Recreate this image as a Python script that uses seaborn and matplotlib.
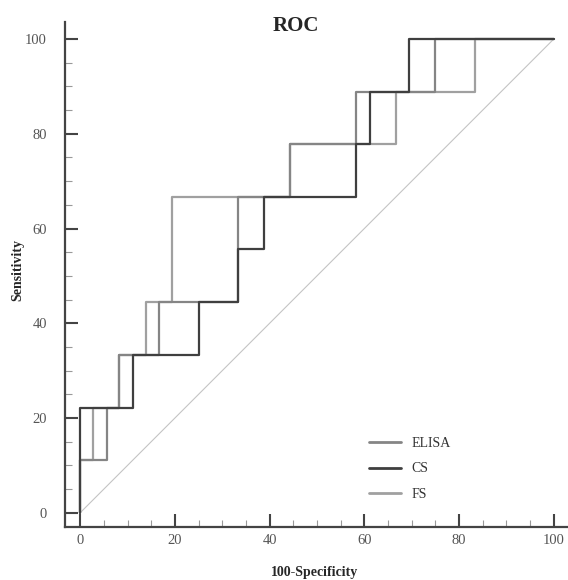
import numpy as np
import pandas as pd
import matplotlib
matplotlib.use("Agg")
import matplotlib.pyplot as plt
from matplotlib.ticker import MultipleLocator
from matplotlib.lines import Line2D
import seaborn as sns

# ROC curve vertices (100-Specificity, Sensitivity) for each test
elisa_x = [0, 0, 5.6, 5.6, 8.3, 8.3, 16.7, 16.7, 33.3, 33.3, 44.4, 44.4, 58.3, 58.3, 75.0, 75.0, 100]
elisa_y = [0, 11.1, 11.1, 22.2, 22.2, 33.3, 33.3, 44.4, 44.4, 66.7, 66.7, 77.8, 77.8, 88.9, 88.9, 100, 100]

cs_x = [0, 0, 11.1, 11.1, 25.0, 25.0, 33.3, 33.3, 38.9, 38.9, 58.3, 58.3, 61.1, 61.1, 69.4, 69.4, 100]
cs_y = [0, 22.2, 22.2, 33.3, 33.3, 44.4, 44.4, 55.6, 55.6, 66.7, 66.7, 77.8, 77.8, 88.9, 88.9, 100, 100]

fs_x = [0, 0, 2.8, 2.8, 8.3, 8.3, 13.9, 13.9, 19.4, 19.4, 44.4, 44.4, 66.7, 66.7, 83.3, 83.3, 100]
fs_y = [0, 11.1, 11.1, 22.2, 22.2, 33.3, 33.3, 44.4, 44.4, 66.7, 66.7, 77.8, 77.8, 88.9, 88.9, 100, 100]

tests = ["ELISA", "CS", "FS"]
colors = {"ELISA": "#858585", "CS": "#3f3f3f", "FS": "#a0a0a0"}
ref_x = [0, 100]
ref_y = [0, 100]

frames = []
for name, xs, ys in [("FS", fs_x, fs_y), ("ELISA", elisa_x, elisa_y), ("CS", cs_x, cs_y)]:
    frames.append(pd.DataFrame({"fpr": xs, "tpr": ys, "test": name}))
df = pd.concat(frames, ignore_index=True)

sns.set_style("white")
plt.rcParams["font.family"] = ["Liberation Serif", "DejaVu Serif"]

fig = plt.figure(figsize=(5.68, 5.80), dpi=100)
ax = fig.add_axes([65 / 568, 53 / 580, 502 / 568, 505 / 580])

# chance line
sns.lineplot(x=ref_x, y=ref_y, ax=ax, color="#c4c4c4", linewidth=0.8)

for name in ["FS", "ELISA", "CS"]:
    sub = df[df["test"] == name]
    sns.lineplot(data=sub, x="fpr", y="tpr", sort=False, estimator=None,
                 ax=ax, color=colors[name], linewidth=1.6)

ax.set_xlim(-3.2, 102.8)
ax.set_ylim(-3.0, 103.6)

for side in ["top", "right"]:
    ax.spines[side].set_visible(False)
for side in ["left", "bottom"]:
    ax.spines[side].set_color("#444444")
    ax.spines[side].set_linewidth(1.6)

ax.xaxis.set_major_locator(MultipleLocator(20))
ax.yaxis.set_major_locator(MultipleLocator(20))
ax.xaxis.set_minor_locator(MultipleLocator(5))
ax.yaxis.set_minor_locator(MultipleLocator(5))
ax.tick_params(which="both", bottom=True, left=True, top=False, right=False)
ax.tick_params(which="major", direction="in", length=9.5, width=1.5, color="#444444",
               labelsize=10.5, labelcolor="#555555")
ax.tick_params(which="minor", direction="in", length=5, width=0.8, color="#999999")
ax.tick_params(axis="x", which="major", pad=5)
ax.tick_params(axis="y", which="major", pad=13)

ax.set_xlabel("100-Specificity", fontsize=10, fontweight="bold")
ax.xaxis.set_label_coords(0.498, -0.077)
ax.set_ylabel("Sensitivity", fontsize=10, fontweight="bold")
ax.yaxis.set_label_coords(-0.082, 0.509)
ax.set_title("ROC", fontsize=15, fontweight="bold", pad=0, x=0.46, y=0.982)

handles = [Line2D([0], [0], color=colors[t], linewidth=2.0) for t in tests]
ax.legend(handles, tests, loc="upper left", bbox_to_anchor=(0.58, 0.203),
          frameon=False, fontsize=10, handlelength=2.3, labelspacing=0.9,
          handletextpad=0.8, labelcolor="#333333")

fig.savefig("out.png", dpi=100)
